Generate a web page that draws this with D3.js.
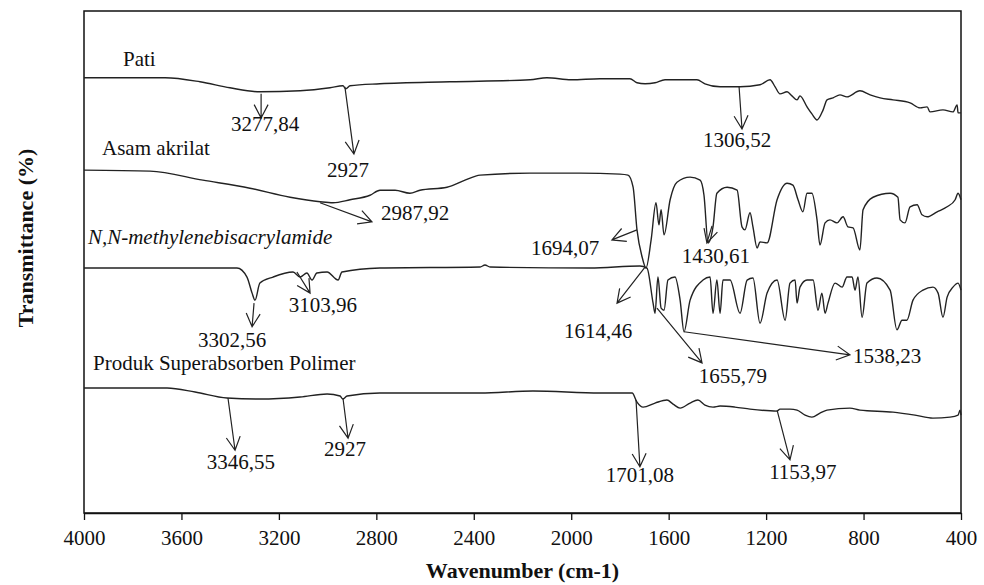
<!DOCTYPE html>
<html lang="en">
<head>
    <meta charset="UTF-8">
    <title>FTIR</title>
    <script src="https://cdn.jsdelivr.net/npm/d3@7"></script>
    <style>
        body { margin: 0; background: #fff; }
        text { font-family: "Liberation Serif", "Times New Roman", serif; fill: #111; }
    </style>
</head>
<body>
<svg id="chart" width="984" height="585"></svg>
<script>
    // x ticks (cm-1), reversed axis
    var xTicks = [4000, 3600, 3200, 2800, 2400, 2000, 1600, 1200, 800, 400];

    // spectra, [wavenumber, transmittance offset units]
    var pati = [[4000,86.7],[3667,86.7],[3524,85.9],[3401,84.7],[3278,83.9],[3113,84.1],[2990,84.7],[2937,85.1],[2925,84.5],[2908,85.1],[2785,85.5],[2498,85.9],[2169,86.3],[2100,86.7],[2000,86.3],[1882,86.5],[1759,86.5],[1730,85.7],[1697,85.5],[1656,85.7],[1615,86.3],[1484,86.3],[1451,85.5],[1389,84.9],[1307,84.9],[1225,85.3],[1184,86.3],[1163,84.9],[1143,83.5],[1114,83.9],[1094,83.1],[1073,82.3],[1061,83.1],[1032,80.9],[1012,79.5],[991,78.3],[966,80.3],[950,82.3],[925,82.7],[897,83.3],[868,82.9],[815,84.1],[773,83.3],[732,82.7],[679,82.3],[609,81.7],[568,80.7],[539,80.9],[527,79.9],[474,80.3],[433,79.9],[416,81.3],[412,79.7],[400,79.7]];
    var asamAkrilat = [[4000,68.3],[3729,68.1],[3512,66.3],[3319,64.7],[3154,62.9],[3031,62.0],[2978,61.8],[2908,62.4],[2826,63.3],[2785,64.3],[2723,64.3],[2662,63.7],[2621,64.3],[2510,64.9],[2436,66.3],[2374,67.3],[2169,67.7],[1964,67.7],[1800,67.5],[1767,67.3],[1746,64.9],[1730,56.4],[1709,51.0],[1693,48.8],[1672,54.4],[1652,61.8],[1640,57.4],[1631,60.4],[1619,55.4],[1594,62.4],[1566,65.9],[1512,66.9],[1471,66.3],[1455,63.3],[1438,53.8],[1418,57.0],[1402,63.7],[1360,64.9],[1319,64.3],[1299,57.0],[1287,56.4],[1266,59.8],[1254,57.0],[1237,52.8],[1225,54.0],[1196,53.8],[1155,62.4],[1114,65.7],[1090,65.3],[1069,62.4],[1049,60.0],[1032,63.7],[1012,63.7],[991,58.4],[979,53.4],[958,57.8],[938,58.4],[909,57.8],[884,59.0],[864,57.0],[843,56.8],[815,52.4],[802,60.4],[761,62.9],[691,63.7],[659,62.9],[650,58.4],[630,57.8],[609,61.0],[580,61.4],[560,59.4],[539,59.0],[498,60.0],[457,61.0],[424,62.4],[412,63.7],[400,62.4]];
    var mba = [[4000,48.8],[3372,48.8],[3331,47.0],[3310,43.8],[3298,42.4],[3278,45.8],[3224,47.0],[3142,48.0],[3113,47.0],[3085,47.8],[3064,46.4],[3044,47.8],[3002,48.0],[2957,46.4],[2941,48.0],[2785,48.8],[2374,49.0],[2354,49.4],[2333,49.0],[1923,48.8],[1718,49.2],[1689,48.8],[1664,41.8],[1656,39.8],[1644,47.0],[1631,40.8],[1619,40.4],[1603,46.4],[1574,47.0],[1553,42.4],[1537,36.1],[1512,42.4],[1459,46.4],[1430,47.0],[1418,39.8],[1402,46.4],[1389,39.8],[1377,46.4],[1348,46.4],[1307,39.8],[1278,46.4],[1254,46.8],[1225,37.8],[1196,43.8],[1155,46.4],[1122,38.4],[1102,45.8],[1081,46.4],[1073,41.8],[1061,45.0],[1032,46.4],[1007,46.4],[987,40.4],[971,43.8],[958,39.8],[946,41.8],[917,45.8],[888,45.0],[868,47.0],[847,47.0],[835,44.4],[823,47.0],[806,39.0],[786,45.8],[745,46.8],[691,44.4],[663,36.5],[642,38.4],[622,38.4],[597,42.4],[556,44.4],[515,45.0],[494,43.8],[474,39.0],[457,43.0],[433,45.0],[412,45.8],[400,44.4]];
    var sap = [[4000,24.9],[3659,24.9],[3544,24.1],[3413,22.9],[3278,22.7],[3113,23.1],[3002,23.7],[2949,23.3],[2937,22.7],[2920,23.3],[2785,23.9],[2374,23.9],[2157,24.3],[1882,23.9],[1750,23.9],[1730,22.1],[1705,21.1],[1656,21.9],[1607,22.5],[1582,21.7],[1553,20.9],[1512,21.9],[1480,22.5],[1451,21.5],[1418,21.1],[1389,21.3],[1328,21.1],[1266,20.7],[1155,20.3],[1143,20.7],[1102,20.7],[1073,20.5],[1040,19.5],[1012,19.1],[979,19.9],[950,20.5],[856,20.9],[815,20.5],[679,20.1],[589,19.5],[515,18.9],[445,19.1],[412,19.5],[404,20.5],[400,19.5]];

    var seriesNames = ["Pati", "Asam akrilat", "N,N-methylenebisacrylamide", "Produk Superabsorben Polimer"];
    var seriesData = [pati, asamAkrilat, mba, sap];
    // name label anchor [wavenumber, T, italic]
    var nameLabelPos = [[3840, 90.6, false], [3926, 72.7, false], [3984, 55.0, true], [3963, 29.9, false]];

    // peak annotations: text, tail wn, tail T, head wn, head T, label wn, label T, anchor
    var peaks = [
        ["3277,84", 3273, 83.5, 3273, 78.7, 3257, 77.5, "middle"],
        ["2927", 2929, 84.9, 2892, 71.5, 2916, 68.3, "middle"],
        ["1306,52", 1311, 84.9, 1299, 76.5, 1319, 74.3, "middle"],
        ["2987,92", 3031, 61.8, 2818, 58.0, 2781, 59.8, "start"],
        ["1694,07", 1730, 56.4, 1833, 54.4, 2025, 52.8, "middle"],
        ["1430,61", 1422, 57.2, 1443, 53.8, 1406, 51.2, "middle"],
        ["1614,46", 1697, 49.0, 1812, 41.8, 1890, 36.3, "middle"],
        ["3302,56", 3302, 41.8, 3310, 37.1, 3392, 34.5, "middle"],
        ["3103,96", 3126, 48.0, 3072, 43.8, 3019, 41.6, "middle"],
        ["1655,79", 1648, 40.8, 1463, 29.9, 1336, 27.3, "middle"],
        ["1538,23", 1537, 36.1, 856, 31.5, 843, 31.3, "start"],
        ["3346,55", 3409, 22.9, 3380, 12.5, 3356, 10.2, "middle"],
        ["2927", 2937, 22.9, 2916, 14.9, 2929, 12.9, "middle"],
        ["1701,08", 1734, 22.5, 1718, 9.2, 1718, 7.6, "middle"],
        ["1153,97", 1155, 20.5, 1102, 10.6, 1049, 8.2, "middle"]
    ];

    var margin = {top: 11, right: 23, bottom: 72, left: 84};
    var width = 984 - margin.left - margin.right;
    var height = 585 - margin.top - margin.bottom;

    var svg = d3.select("#chart");
    var g = svg.append("g").attr("transform", "translate(" + margin.left + "," + margin.top + ")");

    var x = d3.scaleLinear().domain([4000, 400]).range([0, width]);
    var y = d3.scaleLinear().domain([0, 100]).range([height, 0]);

    // frame
    g.append("rect")
        .attr("x", 0).attr("y", 0)
        .attr("width", width).attr("height", height)
        .attr("fill", "none")
        .attr("stroke", "#111")
        .attr("stroke-width", 1.5);

    var xAxis = g.append("g")
        .attr("transform", "translate(0," + height + ")")
        .call(d3.axisBottom(x).tickValues(xTicks).tickSize(7).tickSizeOuter(0).tickFormat(d3.format("d")));
    xAxis.select(".domain").attr("stroke", "#111").attr("stroke-width", 1.5);
    xAxis.selectAll(".tick line").attr("stroke", "#111").attr("stroke-width", 1.3);
    xAxis.selectAll(".tick text")
        .attr("y", 17)
        .attr("font-size", "21px")
        .attr("font-family", "Liberation Serif, Times New Roman, serif")
        .attr("fill", "#111");

    // spectra (smooth, keeps peak extrema)
    var line = d3.line()
        .x(function (d) { return x(d[0]); })
        .y(function (d) { return y(d[1]); })
        .curve(d3.curveMonotoneX);

    seriesData.forEach(function (s) {
        g.append("path")
            .datum(s)
            .attr("d", line)
            .attr("fill", "none")
            .attr("stroke", "#222")
            .attr("stroke-width", 1.4)
            .attr("stroke-linejoin", "round");
    });

    // trace names
    seriesNames.forEach(function (n, i) {
        var p = nameLabelPos[i];
        g.append("text")
            .attr("x", x(p[0]))
            .attr("y", y(p[1]))
            .attr("dy", "0.35em")
            .attr("font-size", "21px")
            .attr("font-style", p[2] ? "italic" : "normal")
            .text(n);
    });

    // arrows
    peaks.forEach(function (p) {
        var x1 = x(p[1]), y1 = y(p[2]), x2 = x(p[3]), y2 = y(p[4]);
        var ang = Math.atan2(y2 - y1, x2 - x1);
        var len = 15, spread = Math.PI / 6.5;
        var a1 = ang + Math.PI - spread, a2 = ang + Math.PI + spread;
        var path = "M" + x1 + "," + y1 + "L" + x2 + "," + y2 +
            "M" + (x2 + len * Math.cos(a1)) + "," + (y2 + len * Math.sin(a1)) +
            "L" + x2 + "," + y2 +
            "L" + (x2 + len * Math.cos(a2)) + "," + (y2 + len * Math.sin(a2));
        g.append("path")
            .attr("d", path)
            .attr("fill", "none")
            .attr("stroke", "#222")
            .attr("stroke-width", 1.2);
        g.append("text")
            .attr("x", x(p[5]))
            .attr("y", y(p[6]))
            .attr("dy", "0.35em")
            .attr("text-anchor", p[7])
            .attr("font-size", "21px")
            .text(p[0]);
    });

    // axis titles
    svg.append("text")
        .attr("x", margin.left + width / 2)
        .attr("y", 570)
        .attr("dy", "0.35em")
        .attr("text-anchor", "middle")
        .attr("font-size", "22px")
        .attr("font-weight", "bold")
        .text("Wavenumber (cm-1)");

    svg.append("text")
        .attr("transform", "translate(25,238) rotate(-90)")
        .attr("dy", "0.35em")
        .attr("text-anchor", "middle")
        .attr("font-size", "22px")
        .attr("font-weight", "bold")
        .text("Transmittance (%)");
</script>
</body>
</html>
